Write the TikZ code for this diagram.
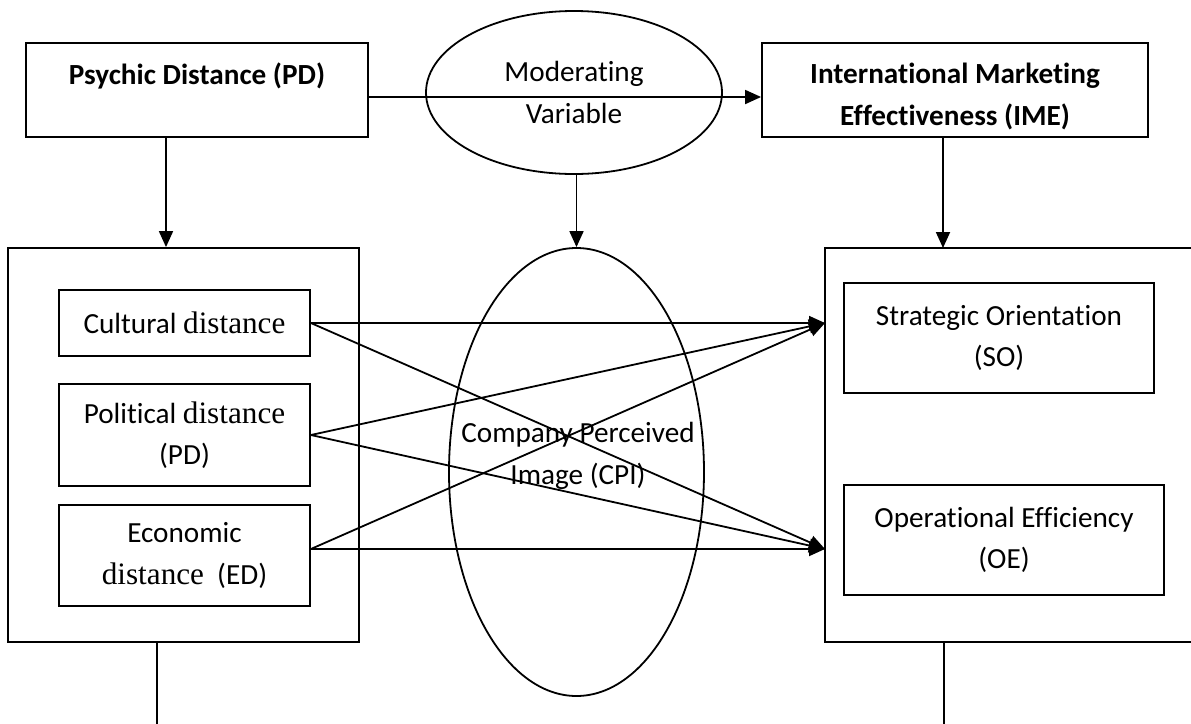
\documentclass[tikz,border=0pt]{standalone}
\usepackage{fontspec}
\setmainfont{Carlito}[Ligatures=NoCommon]
\newfontfamily\tnr{Liberation Serif}
\usetikzlibrary{arrows.meta,shapes.geometric}
\begin{document}
\begin{tikzpicture}[x=0.5pt,y=-0.5pt,
  lw/.style={line width=0.9pt},
  box/.style={draw,lw,rectangle,inner sep=0pt,align=center,font=\fontsize{14.6}{20.8}\selectfont},
  headbox/.style={box,font=\fontsize{14.6}{20.8}\selectfont\bfseries},
  oval/.style={draw,lw,ellipse,inner sep=0pt,align=center,font=\fontsize{14.6}{20.8}\selectfont},
  txt/.style={inner sep=0pt,align=center,font=\fontsize{14.6}{20.8}\selectfont},
  link/.style={lw,-{Triangle[length=8pt,width=7pt]}},
  plainline/.style={lw}]
\useasboundingbox (0,0) rectangle (1191,724);

% top row
\node[headbox,minimum width=171pt,minimum height=47pt] (pd) at (197,90) {\rule{0pt}{15pt}Psychic Distance (PD)\\\mbox{}};
\node[oval,minimum width=148pt,minimum height=81.5pt] (mod) at (574,92.5) {Moderating\\Variable};
\node[headbox,minimum width=193pt,minimum height=47pt] (ime) at (955,90) {\rule{0pt}{17pt}International Marketing\\Effectiveness (IME)};

% left group
\node[box,minimum width=175.5pt,minimum height=197pt] (lbox) at (183.5,445) {};
\node[box,minimum width=125.5pt,minimum height=33pt] (cult) at (184.5,323) {Cultural {\tnr\fontsize{15.6}{20.8}\selectfont distance}};
\node[box,minimum width=125.5pt,minimum height=51pt] (pol) at (184.5,435) {Political {\tnr\fontsize{15.6}{20.8}\selectfont distance}\\(PD)};
\node[box,minimum width=125.5pt,minimum height=50.5pt] (econ) at (184.5,555.5) {Economic\\{\tnr\fontsize{15.6}{20.8}\selectfont distance}\ \ (ED)};

% middle ellipse
\node[oval,minimum width=127.5pt,minimum height=224pt] (cpi) at (576.5,472) {};
\node[txt] (cpitext) at (578,456) {Company Perceived\\Image (CPI)};

% right group (open on the right, running off the page)
\coordinate (rNE) at (1191,248);
\coordinate (rNW) at (825,248);
\coordinate (rSW) at (825,642);
\coordinate (rSE) at (1191,642);
\draw[plainline] (rNE) -- (rNW) -- (rSW) -- (rSE);
\coordinate (soIn) at (825,323);
\coordinate (oeIn) at (825,549);
\node[box,minimum width=155pt,minimum height=55pt] (so) at (999,338) {Strategic Orientation\\(SO)};
\node[box,minimum width=160pt,minimum height=55pt] (oe) at (1004,540) {Operational Efficiency\\(OE)};

% top connectors
\draw[link] ([yshift=-3.5pt]pd.east) -- ([yshift=-3.5pt]pd.east -| ime.west);
\draw[link] ([xshift=-15.5pt]pd.south) -- ([xshift=-15.5pt]pd.south |- lbox.north);
\draw[link] (cpi.north |- mod.south) -- (cpi.north);
\draw[link] ([xshift=-6pt]ime.south) -- ([xshift=-6pt]ime.south |- rNW);

% crossing connectors
\draw[link] (cult.east) -- (soIn);
\draw[link] (cult.east) -- (oeIn);
\draw[link] (pol.east) -- (soIn);
\draw[link] (pol.east) -- (oeIn);
\draw[link] (econ.east |- oeIn) -- (soIn);
\draw[link] (econ.east |- oeIn) -- (oeIn);

% bottom stubs
\coordinate (lbot) at (157,724);
\coordinate (rbot) at (944,724);
\draw[plainline] (lbox.south -| lbot) -- (lbot);
\draw[plainline] (rSW -| rbot) -- (rbot);
\end{tikzpicture}
\end{document}
